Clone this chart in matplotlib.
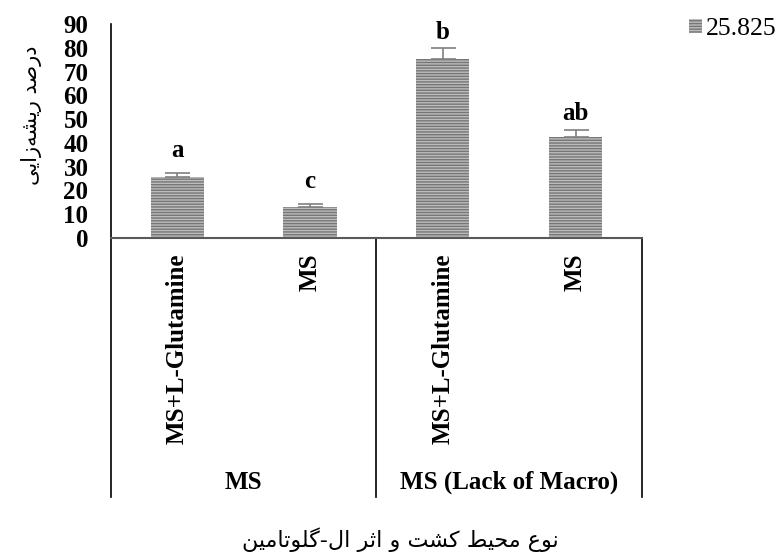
import matplotlib
matplotlib.use("Agg")
import matplotlib.pyplot as plt
from matplotlib.lines import Line2D

# ---------------- data ----------------
categories = ["MS+L-Glutamine", "MS", "MS+L-Glutamine", "MS"]
groups = ["MS", "MS (Lack of Macro)"]
values = [25.825, 13.2, 75.4, 42.5]
errors = [1.5, 1.1, 4.6, 2.8]
letters = ["a", "c", "b", "ab"]
series_name = "25.825"
yticks = [0, 10, 20, 30, 40, 50, 60, 70, 80, 90]
ylabel_fa = "درصد ریشه\u200cزایی"
xlabel_fa = "نوع محیط کشت و اثر ال-گلوتامین"

# ---------------- minimal Persian shaping ----------------
FORMS = {
    'ا': ('\uFE8D', '\uFE8E', None, None),
    'د': ('\uFEA9', '\uFEAA', None, None),
    'ر': ('\uFEAD', '\uFEAE', None, None),
    'ز': ('\uFEAF', '\uFEB0', None, None),
    'و': ('\uFEED', '\uFEEE', None, None),
    'ص': ('\uFEB9', '\uFEBA', '\uFEBB', '\uFEBC'),
    'ش': ('\uFEB5', '\uFEB6', '\uFEB7', '\uFEB8'),
    'ه': ('\uFEE9', '\uFEEA', '\uFEEB', '\uFEEC'),
    'ن': ('\uFEE5', '\uFEE6', '\uFEE7', '\uFEE8'),
    'ع': ('\uFEC9', '\uFECA', '\uFECB', '\uFECC'),
    'م': ('\uFEE1', '\uFEE2', '\uFEE3', '\uFEE4'),
    'ح': ('\uFEA1', '\uFEA2', '\uFEA3', '\uFEA4'),
    'ط': ('\uFEC1', '\uFEC2', '\uFEC3', '\uFEC4'),
    'ت': ('\uFE95', '\uFE96', '\uFE97', '\uFE98'),
    'ث': ('\uFE99', '\uFE9A', '\uFE9B', '\uFE9C'),
    'ل': ('\uFEDD', '\uFEDE', '\uFEDF', '\uFEE0'),
    'ک': ('\uFB8E', '\uFB8F', '\uFB90', '\uFB91'),
    'گ': ('\uFB92', '\uFB93', '\uFB94', '\uFB95'),
    'ی': ('\uFBFC', '\uFBFD', '\uFBFE', '\uFBFF'),
}


def shape(s):
    out = []
    for i, c in enumerate(s):
        if c not in FORMS:
            if c != '\u200c':
                out.append(c)
            continue
        iso, fin, ini, med = FORMS[c]
        prev = s[i - 1] if i > 0 else None
        nxt = s[i + 1] if i + 1 < len(s) else None
        jp = prev in FORMS and FORMS[prev][2] is not None
        jn = nxt in FORMS and ini is not None
        if jp and jn:
            out.append(med)
        elif jp:
            out.append(fin)
        elif jn:
            out.append(ini)
        else:
            out.append(iso)
    return ''.join(reversed(out))


plt.rcParams['font.family'] = ['Liberation Serif', 'DejaVu Sans']
plt.rcParams['hatch.linewidth'] = 1.0

W, H = 779, 555
fig = plt.figure(figsize=(W / 100, H / 100), dpi=100)
ax_l, ax_r, ax_t, ax_b = 110.7, 642, 24, 238
ax = fig.add_axes([ax_l / W, 1 - ax_b / H, (ax_r - ax_l) / W, (ax_b - ax_t) / H])

x = list(range(len(values)))
bars = ax.bar(x, values, width=0.4, facecolor='#bcbcbc', edgecolor='#767676',
              linewidth=0, hatch='------', label=series_name, zorder=2)
ax.errorbar(x, values, yerr=[[0] * len(errors), errors], fmt='none',
            ecolor='#808080', elinewidth=1.2, capsize=9, capthick=1.2, zorder=3)

offsets = [23, 22, 15, 17]
for xi, v, e, t, o in zip(x, values, errors, letters, offsets):
    ax.annotate(t, (xi, v + e), xytext=(0, o * 0.72), textcoords='offset points',
                ha='center', va='center', fontsize=18, fontweight='bold')

ax.set_xlim(-0.5, len(values) - 0.5)
ax.set_ylim(0, 90)
ax.set_yticks(yticks)
ax.set_yticklabels([str(t) for t in yticks], fontsize=18, fontweight='bold')
ax.tick_params(axis='y', length=0, pad=16)
ax.set_xticks(x)
ax.set_xticklabels(categories, rotation=90, fontsize=18, fontweight='bold')
ax.tick_params(axis='x', length=0, pad=11)

for s in ['top', 'right']:
    ax.spines[s].set_visible(False)
ax.spines['left'].set_color('black')
ax.spines['left'].set_linewidth(1.2)
ax.spines['bottom'].set_color('#595959')
ax.spines['bottom'].set_linewidth(1.5)

# group dividers and group labels
depth = -(497 - 238) / (ax_b - ax_t)
for xf in [0, 0.5, 1]:
    ax.add_line(Line2D([xf, xf], [0, depth], transform=ax.transAxes,
                       color='black', linewidth=1.2, clip_on=False))
gy = -(482 - 238) / (ax_b - ax_t)
for i, g in enumerate(groups):
    ax.text(0.25 + 0.5 * i, gy, g, transform=ax.transAxes, ha='center',
            va='center', fontsize=18, fontweight='bold')

# axis titles (Persian)
fig.text(32 / W, 1 - 115 / H, shape(ylabel_fa), rotation=90, ha='center',
         va='center', fontsize=15, family='DejaVu Sans')
fig.text(400 / W, 1 - 540 / H, shape(xlabel_fa), ha='center', va='center',
         fontsize=16, family='DejaVu Sans')

leg = fig.legend(handles=[bars], labels=[series_name], loc='center left',
                 bbox_to_anchor=(689 / W, 1 - 29 / H), frameon=False,
                 fontsize=18.5, handlelength=0.5, handleheight=0.5,
                 handletextpad=0.15, borderpad=0, borderaxespad=0)

fig.savefig('out.png', dpi=100)
